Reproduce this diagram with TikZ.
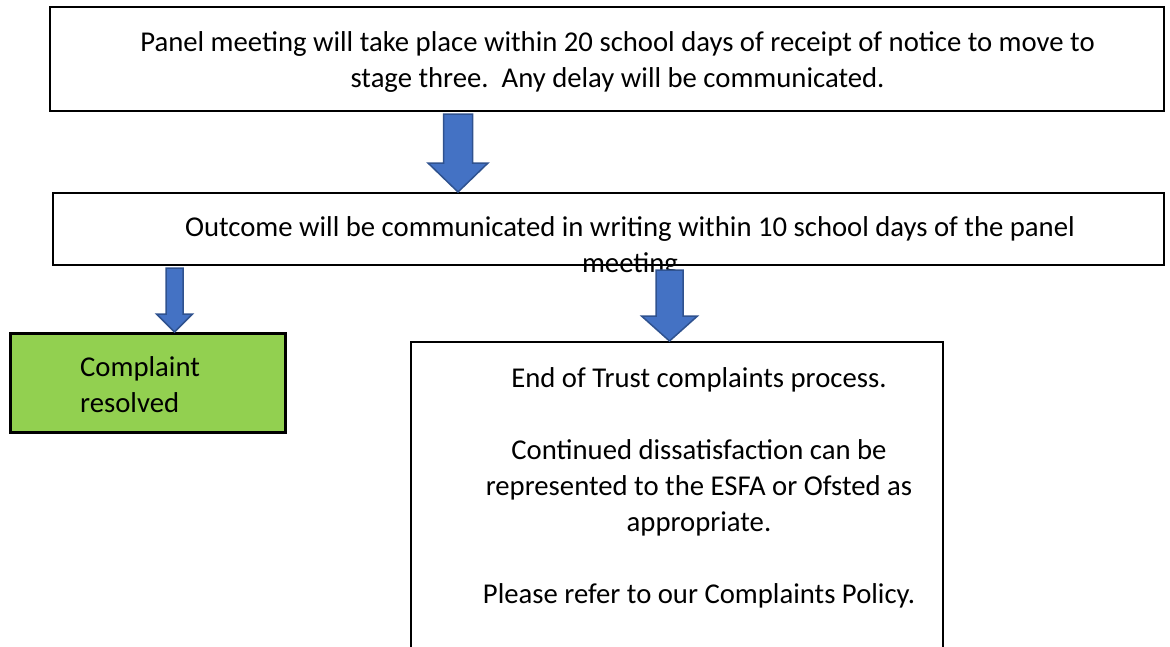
\documentclass[tikz,border=0pt]{standalone}
\usepackage{fontspec}
\setmainfont{Carlito}
\usetikzlibrary{calc}

\definecolor{arrowblue}{HTML}{4472C4}
\definecolor{arrowedge}{HTML}{2F528F}
\definecolor{okgreen}{HTML}{92D050}

\tikzset{
  box/.style={draw=black, line width=2pt, fill=white, inner sep=0pt, anchor=north west},
  txt/.style={font=\fontsize{28.7}{36}\selectfont, align=center, inner sep=0pt, anchor=base},
  arrowshape/.style={fill=arrowblue, draw=arrowedge, line width=1.5pt, line join=miter},
}

% block arrow pointing down: from, to, shaft half width, head half width, head length
\newcommand{\blockarrow}[5]{%
  \path[arrowshape] let \p1=(#1), \p2=(#2) in
    (\x1-#3,\y1) -- (\x1+#3,\y1) -- (\x1+#3,\y2+#5) -- (\x1+#4,\y2+#5)
    -- (\x1,\y2) -- (\x1-#4,\y2+#5) -- (\x1-#3,\y2+#5) -- cycle;}

\begin{document}
\begin{tikzpicture}[x=1pt, y=-1pt]
  \useasboundingbox (0,0) rectangle (1170,646);

  % boxes
  \node[box, minimum width=1114pt, minimum height=104pt] (panel) at (49,6) {};
  \node[box, minimum width=1111pt, minimum height=72pt] (outcome) at (52,192) {};
  \node[box, fill=okgreen, line width=2.5pt, minimum width=275pt, minimum height=99pt] (resolved) at (9,332) {};
  \node[box, minimum width=532pt, minimum height=340pt] (endtrust) at (410,341) {};

  % texts (anchor base = last line)
  \node[txt] (panel-t) at (617.5,87) {Panel meeting will take place within 20 school days of receipt of notice to move to\\stage three.\ \ Any delay will be communicated.};
  \node[txt] (outcome-t) at (630,272) {Outcome will be communicated in writing within 10 school days of the panel\\meeting};
  \node[txt, align=left, anchor=base west] (resolved-t) at (80,412) {Complaint\\resolved};
  \node[txt] (endtrust-t) at (699,603) {End of Trust complaints process.\\[36pt]
    Continued dissatisfaction can be\\represented to the ESFA or Ofsted as\\appropriate.\\[36pt]
    Please refer to our Complaints Policy.};

  % arrows
  \coordinate (a1s) at (458,114);
  \coordinate (a2s) at (174.5,268);
  \coordinate (a3s) at (669.5,270);
  \blockarrow{a1s}{outcome.north -| a1s}{14.5pt}{30pt}{29pt}
  \blockarrow{a2s}{resolved.north -| a2s}{8.5pt}{18pt}{18pt}
  \blockarrow{a3s}{endtrust.north -| a3s}{13.5pt}{28pt}{25pt}
\end{tikzpicture}
\end{document}
